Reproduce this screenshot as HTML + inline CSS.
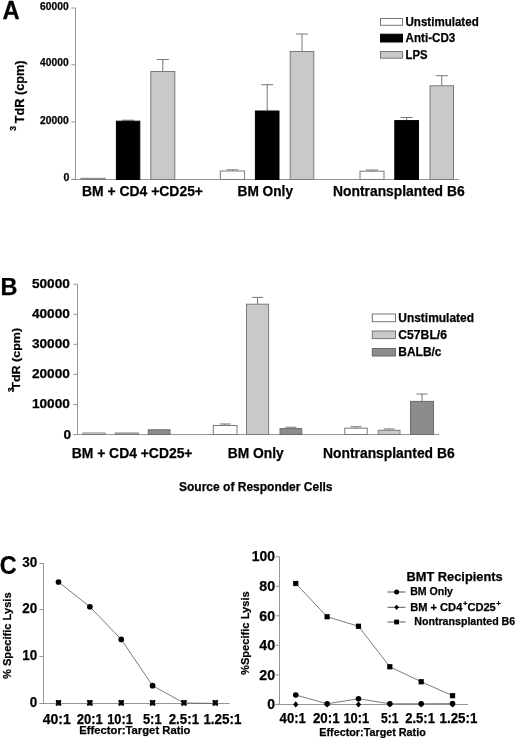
<!DOCTYPE html>
<html><head><meta charset="utf-8"><title>Figure</title>
<style>
html,body{margin:0;padding:0;background:#fff;}
svg{display:block;will-change:transform}
svg text{font-family:'Liberation Sans', sans-serif;font-weight:bold;fill:#000;stroke:#000;stroke-width:0.25px;}
</style></head><body>
<svg width="520" height="738" viewBox="0 0 520 738">
<rect x="0" y="0" width="520" height="738" fill="#fff"/>
<text x="2.6" y="18.7" font-size="25" transform="translate(2.6 0) scale(0.95 1) translate(-2.6 0)">A</text>
<line x1="75.50" y1="8.00" x2="75.50" y2="179.50" stroke="#969696" stroke-width="1"/>
<line x1="71.50" y1="179.50" x2="459.00" y2="179.50" stroke="#969696" stroke-width="1"/>
<line x1="71.50" y1="8.00" x2="75.50" y2="8.00" stroke="#969696" stroke-width="1"/>
<text x="40.10" y="9.60" font-size="10.8" textLength="28.50" lengthAdjust="spacingAndGlyphs">60000</text>
<line x1="71.50" y1="64.80" x2="75.50" y2="64.80" stroke="#969696" stroke-width="1"/>
<text x="40.10" y="66.40" font-size="10.8" textLength="28.50" lengthAdjust="spacingAndGlyphs">40000</text>
<line x1="71.50" y1="122.00" x2="75.50" y2="122.00" stroke="#969696" stroke-width="1"/>
<text x="40.10" y="123.60" font-size="10.8" textLength="28.50" lengthAdjust="spacingAndGlyphs">20000</text>
<line x1="71.50" y1="179.30" x2="75.50" y2="179.30" stroke="#969696" stroke-width="1"/>
<text x="63.50" y="180.90" font-size="10.8" textLength="5.90" lengthAdjust="spacingAndGlyphs">0</text>
<text transform="translate(23.80,123.20) rotate(-90)" font-size="13.4" textLength="62.60" lengthAdjust="spacingAndGlyphs">TdR (cpm)</text>
<text transform="translate(15.8,130.7) rotate(-90)" font-size="8.5">3</text>
<rect x="81.00" y="178.30" width="24.00" height="1.20" fill="#fff" stroke="#7a7a7a" stroke-width="1"/>
<line x1="128.10" y1="120.20" x2="128.10" y2="121.20" stroke="#777" stroke-width="1"/>
<line x1="122.10" y1="120.20" x2="134.10" y2="120.20" stroke="#777" stroke-width="1"/>
<rect x="116.40" y="121.20" width="23.40" height="58.30" fill="#000" stroke="#000" stroke-width="1"/>
<line x1="162.80" y1="59.50" x2="162.80" y2="71.50" stroke="#777" stroke-width="1"/>
<line x1="156.80" y1="59.50" x2="168.80" y2="59.50" stroke="#777" stroke-width="1"/>
<rect x="150.80" y="71.50" width="24.00" height="108.00" fill="#c9c9c9" stroke="#7a7a7a" stroke-width="1"/>
<line x1="232.45" y1="169.80" x2="232.45" y2="171.00" stroke="#777" stroke-width="1"/>
<line x1="226.45" y1="169.80" x2="238.45" y2="169.80" stroke="#777" stroke-width="1"/>
<rect x="220.30" y="171.00" width="24.30" height="8.50" fill="#fff" stroke="#7a7a7a" stroke-width="1"/>
<line x1="267.20" y1="84.70" x2="267.20" y2="111.00" stroke="#777" stroke-width="1"/>
<line x1="261.20" y1="84.70" x2="273.20" y2="84.70" stroke="#777" stroke-width="1"/>
<rect x="255.40" y="111.00" width="23.60" height="68.50" fill="#000" stroke="#000" stroke-width="1"/>
<line x1="302.00" y1="34.00" x2="302.00" y2="51.50" stroke="#777" stroke-width="1"/>
<line x1="296.00" y1="34.00" x2="308.00" y2="34.00" stroke="#777" stroke-width="1"/>
<rect x="290.20" y="51.50" width="23.60" height="128.00" fill="#c9c9c9" stroke="#7a7a7a" stroke-width="1"/>
<line x1="372.00" y1="170.00" x2="372.00" y2="171.20" stroke="#777" stroke-width="1"/>
<line x1="366.00" y1="170.00" x2="378.00" y2="170.00" stroke="#777" stroke-width="1"/>
<rect x="360.00" y="171.20" width="24.00" height="8.30" fill="#fff" stroke="#7a7a7a" stroke-width="1"/>
<line x1="406.65" y1="117.50" x2="406.65" y2="120.60" stroke="#777" stroke-width="1"/>
<line x1="400.65" y1="117.50" x2="412.65" y2="117.50" stroke="#777" stroke-width="1"/>
<rect x="394.80" y="120.60" width="23.70" height="58.90" fill="#000" stroke="#000" stroke-width="1"/>
<line x1="441.75" y1="75.70" x2="441.75" y2="85.80" stroke="#777" stroke-width="1"/>
<line x1="435.75" y1="75.70" x2="447.75" y2="75.70" stroke="#777" stroke-width="1"/>
<rect x="430.00" y="85.80" width="23.50" height="93.70" fill="#c9c9c9" stroke="#7a7a7a" stroke-width="1"/>
<text x="82.00" y="195.50" font-size="14.6" textLength="121.00" lengthAdjust="spacingAndGlyphs">BM + CD4 +CD25+</text>
<text x="237.50" y="195.50" font-size="14.6" textLength="55.50" lengthAdjust="spacingAndGlyphs">BM Only</text>
<text x="333.00" y="195.50" font-size="14.6" textLength="131.60" lengthAdjust="spacingAndGlyphs">Nontransplanted B6</text>
<rect x="380.50" y="18.50" width="22.00" height="6.80" fill="#fff" stroke="#777" stroke-width="1"/>
<rect x="380.50" y="34.20" width="22.00" height="7.80" fill="#000" stroke="#000" stroke-width="1"/>
<rect x="380.50" y="51.50" width="22.00" height="6.70" fill="#c9c9c9" stroke="#777" stroke-width="1"/>
<text x="405.50" y="25.50" font-size="12.7" textLength="73.20" lengthAdjust="spacingAndGlyphs">Unstimulated</text>
<text x="405.50" y="41.90" font-size="12.7" textLength="49.80" lengthAdjust="spacingAndGlyphs">Anti-CD3</text>
<text x="405.50" y="58.80" font-size="12.7" textLength="22.00" lengthAdjust="spacingAndGlyphs">LPS</text>
<text x="0.5" y="294.7" font-size="23.5">B</text>
<line x1="77.50" y1="284.20" x2="77.50" y2="434.50" stroke="#969696" stroke-width="1"/>
<line x1="73.50" y1="434.50" x2="439.00" y2="434.50" stroke="#969696" stroke-width="1"/>
<line x1="73.50" y1="284.20" x2="77.50" y2="284.20" stroke="#969696" stroke-width="1"/>
<text x="31.90" y="288.20" font-size="13.5" textLength="38.00" lengthAdjust="spacingAndGlyphs">50000</text>
<line x1="73.50" y1="314.27" x2="77.50" y2="314.27" stroke="#969696" stroke-width="1"/>
<text x="31.90" y="318.27" font-size="13.5" textLength="38.00" lengthAdjust="spacingAndGlyphs">40000</text>
<line x1="73.50" y1="344.34" x2="77.50" y2="344.34" stroke="#969696" stroke-width="1"/>
<text x="31.90" y="348.34" font-size="13.5" textLength="38.00" lengthAdjust="spacingAndGlyphs">30000</text>
<line x1="73.50" y1="374.41" x2="77.50" y2="374.41" stroke="#969696" stroke-width="1"/>
<text x="31.90" y="378.41" font-size="13.5" textLength="38.00" lengthAdjust="spacingAndGlyphs">20000</text>
<line x1="73.50" y1="404.48" x2="77.50" y2="404.48" stroke="#969696" stroke-width="1"/>
<text x="31.90" y="408.48" font-size="13.5" textLength="38.00" lengthAdjust="spacingAndGlyphs">10000</text>
<line x1="73.50" y1="434.55" x2="77.50" y2="434.55" stroke="#969696" stroke-width="1"/>
<text x="63.40" y="438.55" font-size="13.5" textLength="7.60" lengthAdjust="spacingAndGlyphs">0</text>
<text transform="translate(20.10,389.70) rotate(-90)" font-size="11.3" textLength="61.80" lengthAdjust="spacingAndGlyphs">TdR (cpm)</text>
<text transform="translate(14.3,392.2) rotate(-90)" font-size="8.8">3</text>
<rect x="83.00" y="433.00" width="22.00" height="1.50" fill="#fff" stroke="#7a7a7a" stroke-width="1"/>
<rect x="115.40" y="433.00" width="22.90" height="1.50" fill="#c9c9c9" stroke="#7a7a7a" stroke-width="1"/>
<rect x="148.30" y="429.80" width="21.70" height="4.70" fill="#8c8c8c" stroke="#6a6a6a" stroke-width="1"/>
<line x1="225.15" y1="424.00" x2="225.15" y2="425.50" stroke="#777" stroke-width="1"/>
<line x1="219.65" y1="424.00" x2="230.65" y2="424.00" stroke="#777" stroke-width="1"/>
<rect x="213.30" y="425.50" width="23.70" height="9.00" fill="#fff" stroke="#7a7a7a" stroke-width="1"/>
<line x1="257.55" y1="297.40" x2="257.55" y2="304.20" stroke="#777" stroke-width="1"/>
<line x1="252.05" y1="297.40" x2="263.05" y2="297.40" stroke="#777" stroke-width="1"/>
<rect x="246.50" y="304.20" width="22.10" height="130.30" fill="#c9c9c9" stroke="#7a7a7a" stroke-width="1"/>
<line x1="290.85" y1="427.20" x2="290.85" y2="428.60" stroke="#777" stroke-width="1"/>
<line x1="285.35" y1="427.20" x2="296.35" y2="427.20" stroke="#777" stroke-width="1"/>
<rect x="280.00" y="428.60" width="21.70" height="5.90" fill="#8c8c8c" stroke="#6a6a6a" stroke-width="1"/>
<line x1="356.00" y1="426.70" x2="356.00" y2="428.20" stroke="#777" stroke-width="1"/>
<line x1="350.50" y1="426.70" x2="361.50" y2="426.70" stroke="#777" stroke-width="1"/>
<rect x="344.80" y="428.20" width="22.40" height="6.30" fill="#fff" stroke="#7a7a7a" stroke-width="1"/>
<line x1="389.15" y1="428.90" x2="389.15" y2="430.30" stroke="#777" stroke-width="1"/>
<line x1="383.65" y1="428.90" x2="394.65" y2="428.90" stroke="#777" stroke-width="1"/>
<rect x="378.30" y="430.30" width="21.70" height="4.20" fill="#c9c9c9" stroke="#7a7a7a" stroke-width="1"/>
<line x1="422.00" y1="394.00" x2="422.00" y2="401.40" stroke="#777" stroke-width="1"/>
<line x1="416.50" y1="394.00" x2="427.50" y2="394.00" stroke="#777" stroke-width="1"/>
<rect x="410.50" y="401.40" width="23.00" height="33.10" fill="#8c8c8c" stroke="#6a6a6a" stroke-width="1"/>
<text x="71.70" y="457.50" font-size="15.1" textLength="120.80" lengthAdjust="spacingAndGlyphs">BM + CD4 +CD25+</text>
<text x="227.70" y="457.50" font-size="15.1" textLength="56.00" lengthAdjust="spacingAndGlyphs">BM Only</text>
<text x="323.00" y="457.50" font-size="15.1" textLength="131.60" lengthAdjust="spacingAndGlyphs">Nontransplanted B6</text>
<text x="179.00" y="490.80" font-size="12.8" textLength="153.50" lengthAdjust="spacingAndGlyphs">Source of Responder Cells</text>
<rect x="372.30" y="314.00" width="23.20" height="7.70" fill="#fff" stroke="#777" stroke-width="1"/>
<rect x="372.30" y="331.00" width="23.20" height="7.60" fill="#c9c9c9" stroke="#777" stroke-width="1"/>
<rect x="372.30" y="348.50" width="23.20" height="7.50" fill="#8c8c8c" stroke="#6a6a6a" stroke-width="1"/>
<text x="398.30" y="321.80" font-size="13" textLength="75.70" lengthAdjust="spacingAndGlyphs">Unstimulated</text>
<text x="398.30" y="338.80" font-size="13" textLength="48.70" lengthAdjust="spacingAndGlyphs">C57BL/6</text>
<text x="398.30" y="356.30" font-size="13" textLength="43.20" lengthAdjust="spacingAndGlyphs">BALB/c</text>
<text x="-0.2" y="574.0" font-size="24.9" transform="scale(0.94 1)">C</text>
<line x1="43.50" y1="563.00" x2="43.50" y2="703.50" stroke="#969696" stroke-width="1"/>
<line x1="39.50" y1="703.50" x2="229.70" y2="703.50" stroke="#969696" stroke-width="1"/>
<line x1="39.50" y1="563.50" x2="43.50" y2="563.50" stroke="#969696" stroke-width="1"/>
<text x="22.20" y="567.00" font-size="14.4" textLength="15.00" lengthAdjust="spacingAndGlyphs">30</text>
<line x1="39.50" y1="609.50" x2="43.50" y2="609.50" stroke="#969696" stroke-width="1"/>
<text x="22.20" y="613.00" font-size="14.4" textLength="15.00" lengthAdjust="spacingAndGlyphs">20</text>
<line x1="39.50" y1="656.50" x2="43.50" y2="656.50" stroke="#969696" stroke-width="1"/>
<text x="22.20" y="660.00" font-size="14.4" textLength="15.00" lengthAdjust="spacingAndGlyphs">10</text>
<line x1="39.50" y1="703.50" x2="43.50" y2="703.50" stroke="#969696" stroke-width="1"/>
<text x="29.70" y="707.00" font-size="14.4" textLength="7.50" lengthAdjust="spacingAndGlyphs">0</text>
<text transform="translate(11.20,679.00) rotate(-90)" font-size="11.8" textLength="86.60" lengthAdjust="spacingAndGlyphs">% Specific Lysis</text>
<polyline fill="none" stroke="#5a5a5a" stroke-width="0.8" points="58.50,582.00 89.86,606.75 121.22,639.40 152.58,685.70 183.94,703.00 215.30,703.40"/>
<circle cx="58.50" cy="582.00" r="2.85" fill="#000"/>
<circle cx="89.86" cy="606.75" r="2.85" fill="#000"/>
<circle cx="121.22" cy="639.40" r="2.85" fill="#000"/>
<circle cx="152.58" cy="685.70" r="2.85" fill="#000"/>
<rect x="56.00" y="700.10" width="5.0" height="5.4" fill="#2b2b2b"/>
<path d="M56.00,700.30 L61.00,705.30 M56.00,705.30 L61.00,700.30" stroke="#000" stroke-width="1.7" fill="none"/>
<rect x="87.36" y="700.10" width="5.0" height="5.4" fill="#2b2b2b"/>
<path d="M87.36,700.30 L92.36,705.30 M87.36,705.30 L92.36,700.30" stroke="#000" stroke-width="1.7" fill="none"/>
<rect x="118.72" y="700.10" width="5.0" height="5.4" fill="#2b2b2b"/>
<path d="M118.72,700.30 L123.72,705.30 M118.72,705.30 L123.72,700.30" stroke="#000" stroke-width="1.7" fill="none"/>
<rect x="150.08" y="700.10" width="5.0" height="5.4" fill="#2b2b2b"/>
<path d="M150.08,700.30 L155.08,705.30 M150.08,705.30 L155.08,700.30" stroke="#000" stroke-width="1.7" fill="none"/>
<rect x="181.44" y="700.10" width="5.0" height="5.4" fill="#2b2b2b"/>
<path d="M181.44,700.30 L186.44,705.30 M181.44,705.30 L186.44,700.30" stroke="#000" stroke-width="1.7" fill="none"/>
<rect x="212.80" y="700.10" width="5.0" height="5.4" fill="#2b2b2b"/>
<path d="M212.80,700.30 L217.80,705.30 M212.80,705.30 L217.80,700.30" stroke="#000" stroke-width="1.7" fill="none"/>
<text x="42.70" y="723.60" font-size="15.2" textLength="28.10" lengthAdjust="spacingAndGlyphs">40:1</text>
<text x="76.70" y="723.60" font-size="15.2" textLength="26.10" lengthAdjust="spacingAndGlyphs">20:1</text>
<text x="107.20" y="723.60" font-size="15.2" textLength="25.60" lengthAdjust="spacingAndGlyphs">10:1</text>
<text x="142.90" y="723.60" font-size="15.2" textLength="18.70" lengthAdjust="spacingAndGlyphs">5:1</text>
<text x="168.70" y="723.60" font-size="15.2" textLength="30.40" lengthAdjust="spacingAndGlyphs">2.5:1</text>
<text x="203.40" y="723.60" font-size="15.2" textLength="38.10" lengthAdjust="spacingAndGlyphs">1.25:1</text>
<text x="79.30" y="733.90" font-size="11.5" textLength="111.10" lengthAdjust="spacingAndGlyphs">Effector:Target Ratio</text>
<line x1="279.50" y1="556.75" x2="279.50" y2="704.50" stroke="#969696" stroke-width="1"/>
<line x1="275.50" y1="704.50" x2="468.00" y2="704.50" stroke="#969696" stroke-width="1"/>
<line x1="275.50" y1="556.75" x2="279.50" y2="556.75" stroke="#969696" stroke-width="1"/>
<text x="251.80" y="561.45" font-size="14.7" textLength="23.30" lengthAdjust="spacingAndGlyphs">100</text>
<line x1="275.50" y1="586.28" x2="279.50" y2="586.28" stroke="#969696" stroke-width="1"/>
<text x="259.30" y="590.98" font-size="14.7" textLength="15.80" lengthAdjust="spacingAndGlyphs">80</text>
<line x1="275.50" y1="615.81" x2="279.50" y2="615.81" stroke="#969696" stroke-width="1"/>
<text x="259.30" y="620.51" font-size="14.7" textLength="15.80" lengthAdjust="spacingAndGlyphs">60</text>
<line x1="275.50" y1="645.34" x2="279.50" y2="645.34" stroke="#969696" stroke-width="1"/>
<text x="259.30" y="650.04" font-size="14.7" textLength="15.80" lengthAdjust="spacingAndGlyphs">40</text>
<line x1="275.50" y1="674.87" x2="279.50" y2="674.87" stroke="#969696" stroke-width="1"/>
<text x="259.30" y="679.57" font-size="14.7" textLength="15.80" lengthAdjust="spacingAndGlyphs">20</text>
<line x1="275.50" y1="704.40" x2="279.50" y2="704.40" stroke="#969696" stroke-width="1"/>
<text x="267.30" y="709.10" font-size="14.7" textLength="7.80" lengthAdjust="spacingAndGlyphs">0</text>
<text transform="translate(249.20,675.00) rotate(-90)" font-size="11.8" textLength="83.70" lengthAdjust="spacingAndGlyphs">%Specific Lysis</text>
<polyline fill="none" stroke="#5a5a5a" stroke-width="0.8" points="295.75,583.50 327.11,616.75 358.47,626.25 389.83,666.75 421.19,681.75 452.55,695.70"/>
<polyline fill="none" stroke="#5a5a5a" stroke-width="0.8" points="295.75,695.00 327.11,703.75 358.47,698.75 389.83,703.75 421.19,703.75 452.55,703.60"/>
<rect x="293.15" y="580.90" width="5.2" height="5.2" fill="#000"/>
<rect x="324.51" y="614.15" width="5.2" height="5.2" fill="#000"/>
<rect x="355.87" y="623.65" width="5.2" height="5.2" fill="#000"/>
<rect x="387.23" y="664.15" width="5.2" height="5.2" fill="#000"/>
<rect x="418.59" y="679.15" width="5.2" height="5.2" fill="#000"/>
<rect x="449.95" y="693.10" width="5.2" height="5.2" fill="#000"/>
<circle cx="295.75" cy="695.00" r="2.8" fill="#000"/>
<circle cx="327.11" cy="703.75" r="2.8" fill="#000"/>
<circle cx="358.47" cy="698.75" r="2.8" fill="#000"/>
<circle cx="389.83" cy="703.75" r="2.8" fill="#000"/>
<circle cx="421.19" cy="703.75" r="2.8" fill="#000"/>
<circle cx="452.55" cy="703.60" r="2.8" fill="#000"/>
<path d="M293.15,704.4 L295.75,701.1999999999999 L298.35,704.4 L295.75,707.6Z" fill="#000"/>
<path d="M324.51,704.4 L327.11,701.1999999999999 L329.71,704.4 L327.11,707.6Z" fill="#000"/>
<path d="M355.87,704.4 L358.47,701.1999999999999 L361.07,704.4 L358.47,707.6Z" fill="#000"/>
<path d="M387.23,704.4 L389.83,701.1999999999999 L392.43,704.4 L389.83,707.6Z" fill="#000"/>
<path d="M418.59,704.4 L421.19,701.1999999999999 L423.79,704.4 L421.19,707.6Z" fill="#000"/>
<path d="M449.95,704.4 L452.55,701.1999999999999 L455.15,704.4 L452.55,707.6Z" fill="#000"/>
<text x="279.60" y="723.40" font-size="15.2" textLength="26.30" lengthAdjust="spacingAndGlyphs">40:1</text>
<text x="312.90" y="723.40" font-size="15.2" textLength="26.70" lengthAdjust="spacingAndGlyphs">20:1</text>
<text x="343.40" y="723.40" font-size="15.2" textLength="25.80" lengthAdjust="spacingAndGlyphs">10:1</text>
<text x="380.90" y="723.40" font-size="15.2" textLength="17.50" lengthAdjust="spacingAndGlyphs">5:1</text>
<text x="405.20" y="723.40" font-size="15.2" textLength="29.70" lengthAdjust="spacingAndGlyphs">2.5:1</text>
<text x="439.50" y="723.40" font-size="15.2" textLength="37.90" lengthAdjust="spacingAndGlyphs">1.25:1</text>
<text x="319.30" y="735.70" font-size="11.3" textLength="106.50" lengthAdjust="spacingAndGlyphs">Effector:Target Ratio</text>
<text x="406.60" y="580.50" font-size="13.5" textLength="96.00" lengthAdjust="spacingAndGlyphs">BMT Recipients</text>
<line x1="387.50" y1="592.00" x2="405.50" y2="592.00" stroke="#444" stroke-width="0.9"/>
<line x1="387.50" y1="607.30" x2="405.50" y2="607.30" stroke="#444" stroke-width="0.9"/>
<line x1="387.50" y1="622.00" x2="405.50" y2="622.00" stroke="#444" stroke-width="0.9"/>
<circle cx="396.6" cy="592" r="2.5" fill="#000"/>
<path d="M394.3,607.3 L396.6,604.7 L398.9,607.3 L396.6,609.9Z" fill="#000"/>
<rect x="394.2" y="619.6" width="4.8" height="4.8" fill="#000"/>
<text x="410.20" y="595.20" font-size="11.5" textLength="42.80" lengthAdjust="spacingAndGlyphs">BM Only</text>
<text x="410.2" y="611.4" font-size="11.5" textLength="90.5" lengthAdjust="spacingAndGlyphs">BM + CD4<tspan dy="-5.3" dx="0.6" font-size="8">+</tspan><tspan dy="5.3">CD25</tspan><tspan dy="-5.3" dx="0.4" font-size="8">+</tspan></text>
<text x="414.30" y="625.30" font-size="11.5" textLength="100.90" lengthAdjust="spacingAndGlyphs">Nontransplanted B6</text>
</svg>
</body></html>
